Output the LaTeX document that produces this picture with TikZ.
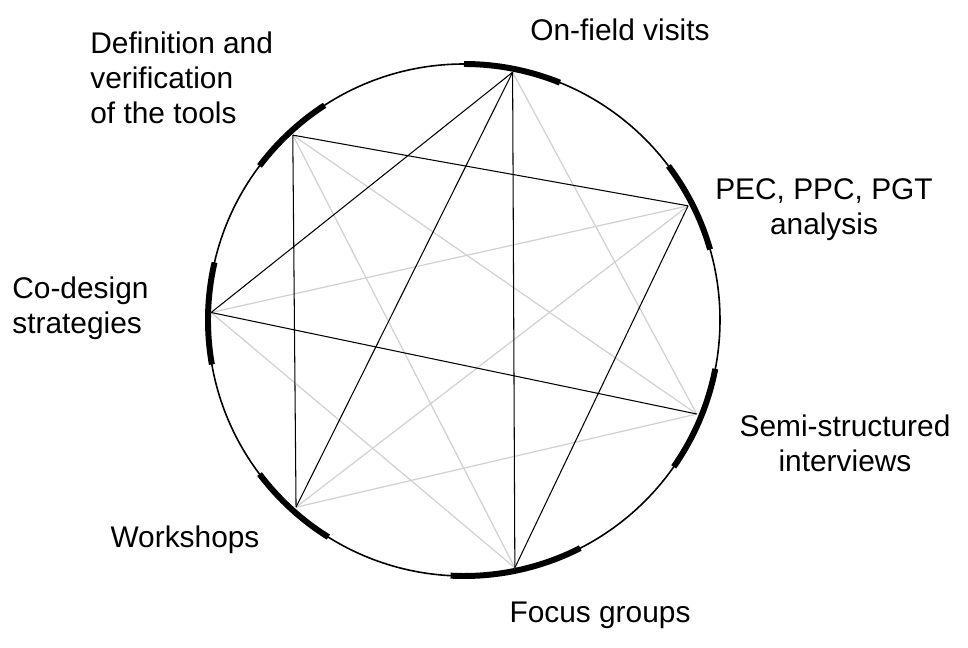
\documentclass[tikz,border=0pt]{standalone}
\usepackage{fontspec}
\setmainfont{Liberation Sans}
\usepackage{tikz}

\begin{document}
\begin{tikzpicture}[
  rim/.style={line width=0.9pt},
  tickarc/.style={line width=3.4pt},
  chord/.style={line width=0.6pt},
  faint/.style={line width=0.7pt, black!18},
  lbl/.style={font=\fontsize{17}{20}\selectfont, inner sep=0pt}
]
\useasboundingbox (-9.28,-6.56) rectangle (10.08,6.4);
% circle:
\draw[rim] (0,0) circle (5.12);
% thick marks on the rim:
\draw[tickarc] (68:5.12) arc[start angle=68, end angle=90, radius=5.12];
\draw[tickarc] (123:5.12) arc[start angle=123, end angle=143, radius=5.12];
\draw[tickarc] (16:5.12) arc[start angle=16, end angle=37, radius=5.12];
\draw[tickarc] (167:5.12) arc[start angle=167, end angle=190, radius=5.12];
\draw[tickarc] (-35:5.12) arc[start angle=-35, end angle=-11, radius=5.12];
\draw[tickarc] (217:5.12) arc[start angle=217, end angle=238, radius=5.12];
\draw[tickarc] (267:5.12) arc[start angle=267, end angle=297, radius=5.12];
% points:
\coordinate (visits) at (78.9:5.05);
\coordinate (tools) at (132.8:5.04);
\coordinate (pec) at (27:5.03);
\coordinate (codesign) at (178.3:5.06);
\coordinate (semi) at (-22:5.02);
\coordinate (workshops) at (228.1:5.03);
\coordinate (focus) at (-78.4:5.06);
% light chords:
\draw[faint] (visits) -- (semi);
\draw[faint] (tools) -- (semi);
\draw[faint] (tools) -- (focus);
\draw[faint] (codesign) -- (pec);
\draw[faint] (codesign) -- (focus);
\draw[faint] (workshops) -- (pec);
\draw[faint] (workshops) -- (semi);
% dark chords:
\draw[chord] (tools) -- (pec);
\draw[chord] (tools) -- (workshops);
\draw[chord] (visits) -- (codesign);
\draw[chord] (visits) -- (workshops);
\draw[chord] (visits) -- (focus);
\draw[chord] (pec) -- (focus);
\draw[chord] (codesign) -- (semi);
% labels:
\node[lbl, anchor=west, align=left] (toolsL) at (-7.48,4.84) {Definition and\\verification\\of the tools};
\node[lbl] (visitsL) at (3.12,5.8) {On-field visits};
\node[lbl, align=center] (pecL) at (7.2,2.2) {PEC, PPC, PGT\\analysis};
\node[lbl, anchor=west, align=left] (codesignL) at (-9.04,0.24) {Co-design\\strategies};
\node[lbl, align=center] (semiL) at (7.62,-2.46) {Semi-structured\\interviews};
\node[lbl] (workshopsL) at (-5.58,-4.4) {Workshops};
\node[lbl] (focusL) at (2.72,-5.9) {Focus groups};
\end{tikzpicture}
\end{document}
